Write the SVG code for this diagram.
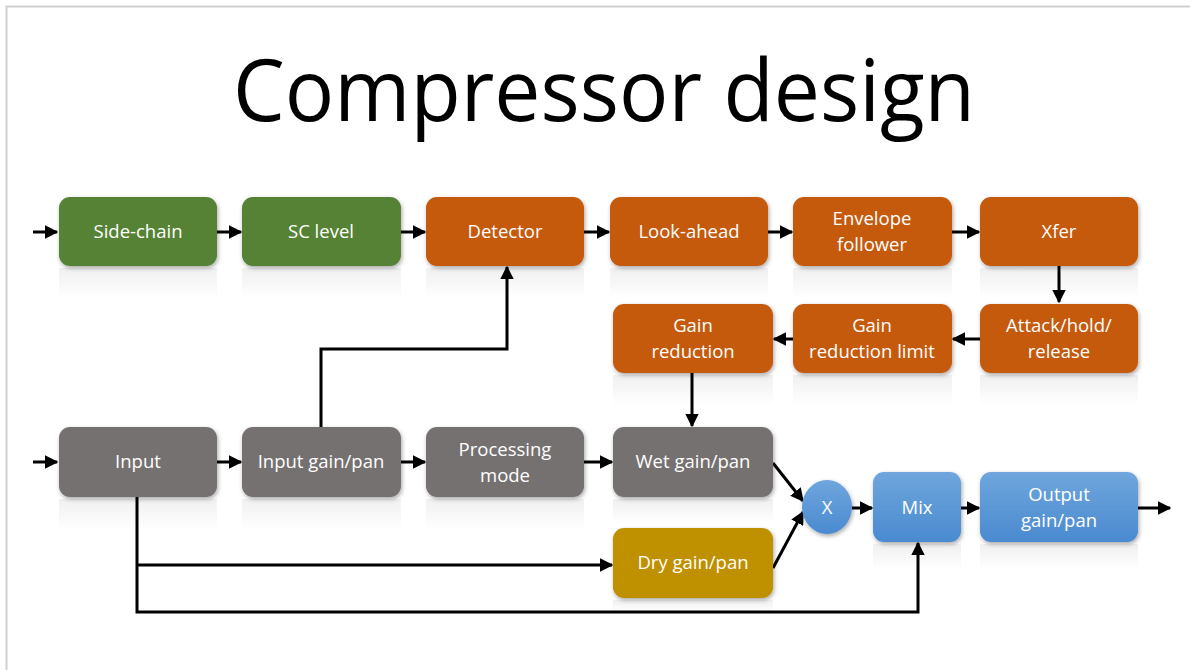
<svg xmlns="http://www.w3.org/2000/svg" width="1190" height="670" viewBox="0 0 1190 670">
<defs>
<style>
.box{stroke:none}
.g{fill:#548235}
.o{fill:#C55A11}
.k{fill:#767171}
.y{fill:#BF9000}
.b{fill:url(#blue)}
.t{font-family:"Open Sans","Noto Sans",sans-serif;font-size:18.5px;fill:#ffffff;text-anchor:middle}
.c{fill:none;stroke:#000;stroke-width:3}
.refl{fill:url(#refl)}
</style>
<linearGradient id="blue" x1="0" y1="0" x2="0" y2="1">
<stop offset="0" stop-color="#6FA6DD"/>
<stop offset="1" stop-color="#4A8AD0"/>
</linearGradient>
<linearGradient id="refl" x1="0" y1="0" x2="0" y2="1">
<stop offset="0" stop-color="#000" stop-opacity="0.06"/>
<stop offset="1" stop-color="#000" stop-opacity="0"/>
</linearGradient>
<filter id="sh" x="-10%" y="-10%" width="125%" height="135%">
<feDropShadow dx="1" dy="2" stdDeviation="2" flood-color="#000" flood-opacity="0.35"/>
</filter>
<marker id="ah" viewBox="0 0 10 10" refX="9" refY="5" markerWidth="4.5" markerHeight="4.5" orient="auto" markerUnits="strokeWidth">
<path d="M0,0 L10,5 L0,10 z" fill="#000"/>
</marker>
</defs>
<rect x="0" y="0" width="1190" height="670" fill="#fff"/>
<path d="M6.5,670 V6.5 H1190" fill="none" stroke="#d0d0d0" stroke-width="2"/>
<text x="604" y="121" font-family="'Open Sans','Noto Sans',sans-serif" font-weight="400" font-size="86" fill="#000" text-anchor="middle" textLength="742" lengthAdjust="spacingAndGlyphs">Compressor design</text>

<g id="reflections">
<rect class="refl" x="59" y="268" width="158" height="30"/>
<rect class="refl" x="242" y="268" width="159" height="30"/>
<rect class="refl" x="426" y="268" width="158" height="30"/>
<rect class="refl" x="610" y="268" width="158" height="30"/>
<rect class="refl" x="793" y="268" width="159" height="30"/>
<rect class="refl" x="980" y="268" width="158" height="30"/>
<rect class="refl" x="613" y="375" width="160" height="30"/>
<rect class="refl" x="793" y="375" width="159" height="30"/>
<rect class="refl" x="980" y="375" width="158" height="30"/>
<rect class="refl" x="59" y="499" width="158" height="30"/>
<rect class="refl" x="242" y="499" width="159" height="30"/>
<rect class="refl" x="426" y="499" width="158" height="30"/>
<rect class="refl" x="613" y="499" width="160" height="25"/>
<rect class="refl" x="613" y="600" width="160" height="12"/>
<rect class="refl" x="873" y="544" width="88" height="25"/>
<rect class="refl" x="980" y="544" width="158" height="25"/>
</g>

<g id="connectors">
<line class="c" x1="33" y1="232" x2="57" y2="232" marker-end="url(#ah)"/>
<line class="c" x1="217" y1="232" x2="241" y2="232" marker-end="url(#ah)"/>
<line class="c" x1="401" y1="232" x2="425" y2="232" marker-end="url(#ah)"/>
<line class="c" x1="584" y1="232" x2="609" y2="232" marker-end="url(#ah)"/>
<line class="c" x1="768" y1="232" x2="792" y2="232" marker-end="url(#ah)"/>
<line class="c" x1="952" y1="232" x2="979" y2="232" marker-end="url(#ah)"/>
<line class="c" x1="1059" y1="266" x2="1059" y2="302" marker-end="url(#ah)"/>
<line class="c" x1="980" y1="339" x2="953" y2="339" marker-end="url(#ah)"/>
<line class="c" x1="793" y1="339" x2="774" y2="339" marker-end="url(#ah)"/>
<line class="c" x1="692" y1="373" x2="692" y2="426" marker-end="url(#ah)"/>
<line class="c" x1="33" y1="462" x2="57" y2="462" marker-end="url(#ah)"/>
<line class="c" x1="217" y1="462" x2="241" y2="462" marker-end="url(#ah)"/>
<line class="c" x1="401" y1="462" x2="425" y2="462" marker-end="url(#ah)"/>
<line class="c" x1="584" y1="462" x2="612" y2="462" marker-end="url(#ah)"/>
<polyline class="c" points="321,427 321,349 507,349 507,267" marker-end="url(#ah)"/>
<polyline class="c" points="137,497 137,612 918,612 918,543" marker-end="url(#ah)"/>
<line class="c" x1="137" y1="565" x2="612" y2="565" marker-end="url(#ah)"/>
<line class="c" x1="773" y1="463" x2="803" y2="501" marker-end="url(#ah)"/>
<line class="c" x1="773" y1="568" x2="803" y2="512" marker-end="url(#ah)"/>
<line class="c" x1="852" y1="508" x2="872" y2="508" marker-end="url(#ah)"/>
<line class="c" x1="961" y1="508" x2="979" y2="508" marker-end="url(#ah)"/>
<line class="c" x1="1138" y1="508" x2="1170" y2="508" marker-end="url(#ah)"/>
</g>

<g id="side-chain"><rect class="box g" filter="url(#sh)" x="59" y="197" width="158" height="69" rx="11"/><text class="t" x="138" y="238">Side-chain</text></g>
<g id="sc-level"><rect class="box g" filter="url(#sh)" x="242" y="197" width="159" height="69" rx="11"/><text class="t" x="321" y="238">SC level</text></g>
<g id="detector"><rect class="box o" filter="url(#sh)" x="426" y="197" width="158" height="69" rx="11"/><text class="t" x="505" y="238">Detector</text></g>
<g id="look-ahead"><rect class="box o" filter="url(#sh)" x="610" y="197" width="158" height="69" rx="11"/><text class="t" x="689" y="238">Look-ahead</text></g>
<g id="envelope-follower"><rect class="box o" filter="url(#sh)" x="793" y="197" width="159" height="69" rx="11"/><text class="t" x="872" y="225">Envelope</text><text class="t" x="872" y="251">follower</text></g>
<g id="xfer"><rect class="box o" filter="url(#sh)" x="980" y="197" width="158" height="69" rx="11"/><text class="t" x="1059" y="238">Xfer</text></g>

<g id="gain-reduction"><rect class="box o" filter="url(#sh)" x="613" y="304" width="160" height="69" rx="11"/><text class="t" x="693" y="332">Gain</text><text class="t" x="693" y="358">reduction</text></g>
<g id="gain-reduction-limit"><rect class="box o" filter="url(#sh)" x="793" y="304" width="159" height="69" rx="11"/><text class="t" x="872" y="332">Gain</text><text class="t" x="872" y="358">reduction limit</text></g>
<g id="attack-hold-release"><rect class="box o" filter="url(#sh)" x="980" y="304" width="158" height="69" rx="11"/><text class="t" x="1059" y="332">Attack/hold/</text><text class="t" x="1059" y="358">release</text></g>

<g id="input"><rect class="box k" filter="url(#sh)" x="59" y="427" width="158" height="70" rx="11"/><text class="t" x="138" y="468">Input</text></g>
<g id="input-gain-pan"><rect class="box k" filter="url(#sh)" x="242" y="427" width="159" height="70" rx="11"/><text class="t" x="321" y="468">Input gain/pan</text></g>
<g id="processing-mode"><rect class="box k" filter="url(#sh)" x="426" y="427" width="158" height="70" rx="11"/><text class="t" x="505" y="456">Processing</text><text class="t" x="505" y="482">mode</text></g>
<g id="wet-gain-pan"><rect class="box k" filter="url(#sh)" x="613" y="427" width="160" height="70" rx="11"/><text class="t" x="693" y="468">Wet gain/pan</text></g>
<g id="dry-gain-pan"><rect class="box y" filter="url(#sh)" x="613" y="528" width="160" height="70" rx="11"/><text class="t" x="693" y="569">Dry gain/pan</text></g>

<g id="x"><ellipse class="box b" filter="url(#sh)" cx="827" cy="507" rx="25" ry="27"/><text class="t" x="827" y="514">X</text></g>
<g id="mix"><rect class="box b" filter="url(#sh)" x="873" y="472" width="88" height="70" rx="11"/><text class="t" x="917" y="514">Mix</text></g>
<g id="output-gain-pan"><rect class="box b" filter="url(#sh)" x="980" y="472" width="158" height="70" rx="11"/><text class="t" x="1059" y="501">Output</text><text class="t" x="1059" y="527">gain/pan</text></g>
</svg>
